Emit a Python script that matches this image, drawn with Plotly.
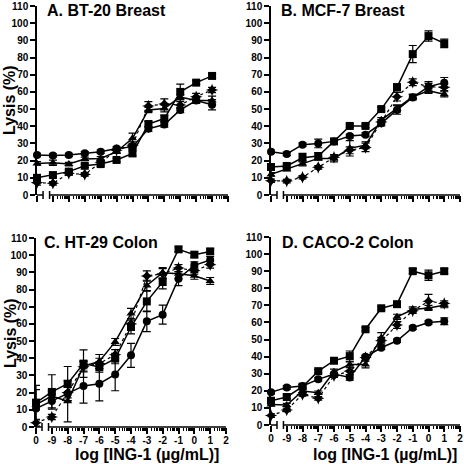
import numpy as np
import plotly.graph_objects as go

# ---- data ----
# concentration categories (log10 ug/mL); "control" plotted one unit left of -9
conc_labels = ["0", "-9", "-8", "-7", "-6", "-5", "-4", "-3", "-2", "-1", "0", "1"]
x_pos = [-10, -9, -8, -7, -6, -5, -4, -3, -2, -1, 0, 1]
tick_vals = [-10, -9, -8, -7, -6, -5, -4, -3, -2, -1, 0, 1, 2]
tick_text = ["0", "-9", "-8", "-7", "-6", "-5", "-4", "-3", "-2", "-1", "0", "1", "2"]

panel_titles = ["A. BT-20 Breast", "B. MCF-7 Breast", "C. HT-29 Colon", "D. CACO-2 Colon"]

# Panel A
a_circle = [23.3, 23.0, 23.3, 24.3, 25.2, 27.0, 28.0, 38.5, 41.0, 49.5, 55.0, 52.5]
a_circle_err = [1, 1, 1, 1, 1, 1, 1.5, 1.5, 1.5, 1.5, 1.5, 3]
a_square = [10.0, 11.6, 13.6, 17.0, 18.0, 20.4, 24.2, 41.3, 44.5, 60.0, 65.4, 69.3]
a_square_err = [1, 1, 1, 1, 1, 1, 1.5, 1.5, 2, 4.5, 1, 1]
a_tri = [18.4, 18.8, 18.0, 21.0, 21.3, 25.2, 33.0, 49.5, 50.4, 57.0, 55.0, 55.0]
a_tri_err = [1, 1.5, 1, 1, 1, 1, 3, 1.5, 2, 1.5, 1.5, 2.5]
a_star = [7.2, 6.8, 12.6, 12.0, 19.0, 26.0, 29.0, 51.8, 53.0, 52.4, 57.2, 61.1]
a_star_err = [1.5, 1, 1, 1, 1, 1, 2, 2.5, 3, 2, 2, 1.5]

# Panel B
b_circle = [25.2, 23.9, 29.3, 30.0, 31.2, 34.3, 35.1, 41.7, 49.5, 56.8, 63.0, 65.4]
b_circle_err = [1, 1, 1, 2.5, 1.5, 1, 1, 1.5, 2.5, 1.5, 3, 3]
b_square = [16.3, 16.9, 21.7, 22.7, 31.2, 40.2, 40.2, 50.0, 62.7, 82.0, 92.5, 88.3]
b_square_err = [1, 1, 2.5, 2, 1, 1, 1, 1, 2, 5, 3, 2.5]
b_tri = [12.0, 15.0, 18.4, 21.3, 21.3, 27.2, 29.0, 43.6, 50.4, 57.2, 60.7, 58.6]
b_tri_err = [1, 1, 1.5, 1, 2, 4.5, 2, 1.5, 2, 1.5, 1.5, 1.5]
b_star = [8.3, 8.1, 10.3, 16.1, 21.9, 26.0, 27.7, 42.5, 57.2, 65.6, 63.0, 62.7]
b_star_err = [1, 1, 1, 1, 1.5, 2, 2.5, 1.5, 2.5, 2, 2, 2]

# Panel C
c_circle = [10.7, 15.1, 19.4, 23.9, 25.2, 30.6, 41.7, 61.5, 65.4, 86.3, 94.1, 97.2]
c_circle_err = [11, 4, 4, 10, 10, 9.5, 7, 6, 5.5, 4, 2, 2]
c_square = [14.2, 20.4, 25.2, 36.9, 34.9, 39.8, 58.2, 73.1, 84.4, 103.4, 100.3, 102.2]
c_square_err = [10, 10, 10, 8, 3, 3, 4, 6, 4, 1.5, 1.5, 1.5]
c_tri = [13.0, 18.0, 15.0, 35.5, 38.2, 49.5, 66.0, 82.4, 89.8, 89.2, 88.0, 85.0]
c_tri_err = [3, 3, 12, 3, 4, 2, 3, 3, 3, 3, 2, 2]
c_star = [2.5, 5.8, 20.0, 35.0, 37.0, 42.0, 60.0, 87.9, 89.2, 92.5, 91.0, 94.5]
c_star_err = [2, 1.5, 3, 3, 3, 3, 3, 3, 3, 2, 2, 2]

# Panel D
d_circle = [19.1, 22.0, 22.8, 26.7, 29.8, 27.8, 39.9, 45.2, 49.3, 56.9, 60.0, 60.7]
d_circle_err = [1, 1, 1, 1, 1, 1.5, 1, 1, 1, 1, 1, 2]
d_square = [14.2, 16.4, 22.4, 31.5, 37.6, 40.3, 56.0, 68.3, 70.7, 90.0, 87.6, 90.0]
d_square_err = [1, 1, 1, 1, 1, 3, 1, 1, 1, 1.5, 3, 1.5]
d_tri = [12.0, 11.7, 19.9, 18.9, 31.2, 35.4, 35.4, 51.0, 63.3, 67.6, 68.5, 70.1]
d_tri_err = [1, 1, 1, 1, 1.5, 1.5, 2, 3, 1.5, 1.5, 1.5, 1.5]
d_star = [5.5, 8.8, 17.9, 15.6, 28.8, 31.5, 39.5, 49.3, 58.5, 66.8, 72.4, 71.1]
d_star_err = [1, 1, 1, 1, 1, 2, 1, 2, 2, 1.5, 4, 1.5]

panels = [
    [(a_circle, a_circle_err), (a_square, a_square_err), (a_tri, a_tri_err), (a_star, a_star_err)],
    [(b_circle, b_circle_err), (b_square, b_square_err), (b_tri, b_tri_err), (b_star, b_star_err)],
    [(c_circle, c_circle_err), (c_square, c_square_err), (c_tri, c_tri_err), (c_star, c_star_err)],
    [(d_circle, d_circle_err), (d_square, d_square_err), (d_tri, d_tri_err), (d_star, d_star_err)],
]

# ---- layout geometry (pixels in a 464x464 canvas) ----
W = H = 464.0
# (x_left, x_right, y_bottom(0), y_top(110)) in pixels
geo = [
    (37, 228, 195, 6),
    (271, 460, 195, 6),
    (36, 226, 427, 238),
    (271, 460, 425, 237),
]
title_pos = [(45, 11), (279, 11), (42, 243), (280, 243)]

styles = [
    dict(symbol="circle", size=8, dash="solid", lw=1.5),
    dict(symbol="square", size=8, dash="solid", lw=1.5),
    dict(symbol="triangle-up", size=8, dash="solid", lw=1.5),
    dict(symbol="star-diamond", size=9, dash="dot", lw=1.2),
]

minor_vals = [n + np.log10(k) for n in range(-9, 2) for k in range(2, 10)]

fig = go.Figure()
font_family = "Liberation Sans, Arial, Helvetica, sans-serif"
shapes = []
annotations = []

for i, series in enumerate(panels):
    xa = "x" if i == 0 else f"x{i+1}"
    ya = "y" if i == 0 else f"y{i+1}"
    for (vals, errs), st in zip(series, styles):
        fig.add_trace(go.Scatter(
            x=x_pos, y=vals, xaxis=xa, yaxis=ya, mode="lines+markers",
            line=dict(color="black", width=st["lw"], dash=st["dash"]),
            marker=dict(symbol=st["symbol"], size=st["size"], color="black"),
            error_y=dict(type="data", array=errs, visible=True, color="black",
                         thickness=1.2, width=4),
            cliponaxis=False, showlegend=False,
        ))
    xl, xr, yb, yt = geo[i]
    xdom = [xl / W, xr / W]
    ydom = [1 - yb / H, 1 - yt / H]
    bottom = i >= 2
    axis_x = dict(
        domain=xdom, range=[-10, 2], anchor=ya, showline=False, showgrid=False,
        zeroline=False, automargin=False, tickmode="array", tickvals=tick_vals,
        ticktext=tick_text, ticks="outside", ticklen=6, tickwidth=1.5,
        tickcolor="black", showticklabels=bottom, ticklabelstandoff=-2,
        tickfont=dict(family=font_family, size=10, color="black", weight="bold"),
        minor=dict(tickmode="array", tickvals=minor_vals, ticks="outside",
                   ticklen=3, tickwidth=1, tickcolor="black"),
    )
    axis_y = dict(
        domain=ydom, range=[0, 110], anchor=xa, showline=True, linecolor="black",
        linewidth=1.5, showgrid=False, zeroline=False, automargin=False,
        tickmode="linear", tick0=0, dtick=10, ticks="outside", ticklen=5,
        tickwidth=1.5, tickcolor="black",
        tickfont=dict(family=font_family, size=10, color="black", weight="bold"),
    )
    fig.update_layout(**{("xaxis" if i == 0 else f"xaxis{i+1}"): axis_x,
                         ("yaxis" if i == 0 else f"yaxis{i+1}"): axis_y})
    # broken x axis line
    yp = 1 - yb / H
    bar = 4 / H
    shapes.append(dict(type="line", xref=xa, yref="paper", x0=-10, x1=-9.62, y0=yp, y1=yp,
                       line=dict(color="black", width=1.5)))
    shapes.append(dict(type="line", xref=xa, yref="paper", x0=-9.21, x1=2, y0=yp, y1=yp,
                       line=dict(color="black", width=1.5)))
    for bx in (-9.62, -9.21):
        shapes.append(dict(type="line", xref=xa, yref="paper", x0=bx, x1=bx,
                           y0=yp - bar, y1=yp + bar, line=dict(color="black", width=1.5)))
    tx, ty = title_pos[i]
    annotations.append(dict(text=f"<b>{panel_titles[i]}</b>", xref="paper", yref="paper",
                            x=tx / W, y=1 - ty / H, xanchor="left", yanchor="middle",
                            showarrow=False,
                            font=dict(family=font_family, size=16, color="black")))

# axis titles
for yc in (100, 333):
    annotations.append(dict(text="<b>Lysis (%)</b>", xref="paper", yref="paper",
                            x=10 / W, y=1 - yc / H, xanchor="center", yanchor="middle",
                            textangle=-90, showarrow=False,
                            font=dict(family=font_family, size=16, color="black")))
for xc in (147, 385):
    annotations.append(dict(text="<b>log [ING-1 (µg/mL)]</b>", xref="paper", yref="paper",
                            x=xc / W, y=1 - 454 / H, xanchor="center", yanchor="middle",
                            showarrow=False,
                            font=dict(family=font_family, size=16, color="black")))

fig.update_layout(width=464, height=464, margin=dict(l=0, r=0, t=0, b=0, autoexpand=False),
                  paper_bgcolor="white", plot_bgcolor="white", hovermode=False,
                  shapes=shapes, annotations=annotations, showlegend=False)

fig.write_html("out.html", config={"displayModeBar": False},
               post_script="document.body.style.margin='0px';document.body.style.overflow='hidden';")
